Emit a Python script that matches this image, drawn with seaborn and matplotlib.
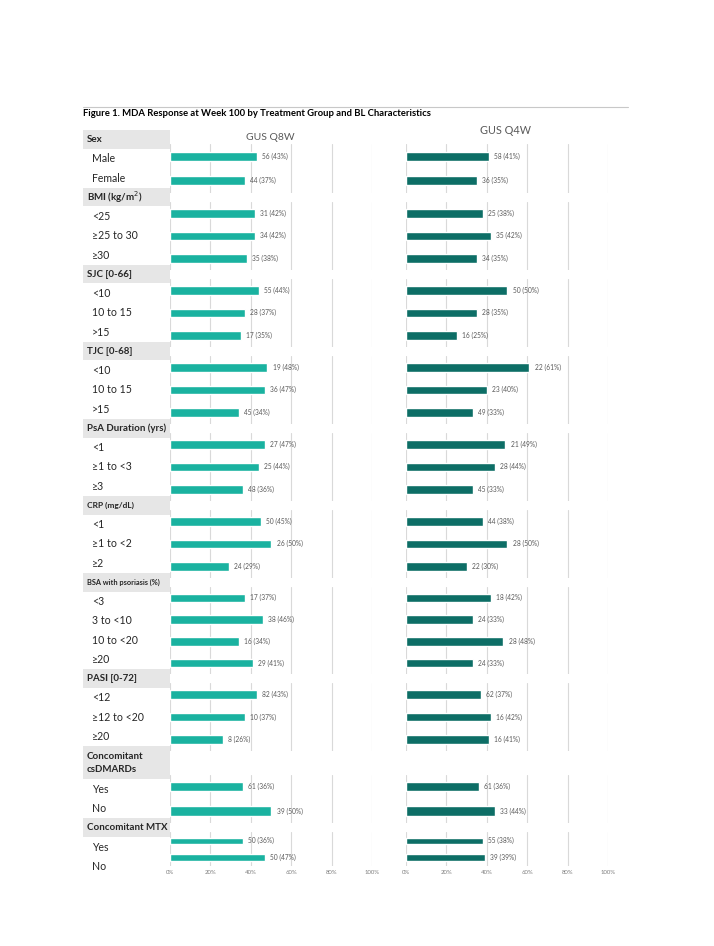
import matplotlib.pyplot as plt
import matplotlib.patches as mpatches
import numpy as np
import pandas as pd
import seaborn as sns

## datos de la figura
group_names = ['Sex', 'BMI (kg/m$^2$)', 'SJC [0-66]', 'TJC [0-68]', 'PsA Duration (yrs)',
               'CRP (mg/dL)', 'BSA with psoriasis (%)', 'PASI [0-72]',
               'Concomitant\ncsDMARDs', 'Concomitant MTX']
group_sizes = [2, 3, 3, 3, 3, 3, 4, 3, 2, 2]
levels = ['Male', 'Female',
          '<25', '≥25 to 30', '≥30',
          '<10', '10 to 15', '>15',
          '<10', '10 to 15', '>15',
          '<1', '≥1 to <3', '≥3',
          '<1', '≥1 to <2', '≥2',
          '<3', '3 to <10', '10 to <20', '≥20',
          '<12', '≥12 to <20', '≥20',
          'Yes', 'No',
          'Yes', 'No']
q8w_n = [56, 44, 31, 34, 35, 55, 28, 17, 19, 36, 45, 27, 25, 48,
         50, 26, 24, 17, 38, 16, 29, 82, 10, 8, 61, 39, 50, 50]
q8w_pct = [43, 37, 42, 42, 38, 44, 37, 35, 48, 47, 34, 47, 44, 36,
           45, 50, 29, 37, 46, 34, 41, 43, 37, 26, 36, 50, 36, 47]
q4w_n = [58, 36, 25, 35, 34, 50, 28, 16, 22, 23, 49, 21, 28, 45,
         44, 28, 22, 18, 24, 28, 24, 62, 16, 16, 61, 33, 55, 39]
q4w_pct = [41, 35, 38, 42, 35, 50, 35, 25, 61, 40, 33, 49, 44, 33,
           38, 50, 30, 42, 33, 48, 33, 37, 42, 41, 36, 44, 38, 39]
arm_titles = ['GUS Q8W', 'GUS Q4W']
x_ticks = [0, 20, 40, 60, 80, 100]

df = pd.DataFrame({'group': np.repeat(np.arange(len(group_names)), group_sizes),
                   'level': levels,
                   'q8w_n': q8w_n, 'q8w_pct': q8w_pct,
                   'q4w_n': q4w_n, 'q4w_pct': q4w_pct})

sns.set_theme(style='white')
plt.rcParams['font.family'] = ['Lato', 'DejaVu Sans']

W, H = 714, 946
fig = plt.figure(figsize=(W / 100, H / 100), dpi=100)

def rect(x0, y0, x1, y1):
    # pixeles (origen arriba izq) -> coordenadas de figura
    return [x0 / W, 1 - y1 / H, (x1 - x0) / W, (y1 - y0) / H]

def fy(y):
    return 1 - y / H

## titulo y linea superior
fig.add_artist(plt.Line2D([83 / W, 628 / W], [fy(107), fy(107)], color='#c8c8c8', lw=0.8))
fig.text(83 / W, fy(114), 'Figure 1. MDA Response at Week 100 by Treatment Group and BL Characteristics',
         fontsize=6.8, fontweight='bold', va='center', ha='left', color='black')

## titulos de brazos
fig.text(270 / W, fy(137), arm_titles[0], fontsize=7.5, color='#595959', ha='center', va='center')
fig.text(506 / W, fy(131), arm_titles[1], fontsize=7.8, color='#595959', ha='center', va='center')

colors = ['#1ab2a0', '#0d6e66']
arms = [('q8w_n', 'q8w_pct'), ('q4w_n', 'q4w_pct')]
x_ranges = [(170, 372), (406, 608)]

u = 19.25
y = 130.0
header_tops = []
for g, name in enumerate(group_names):
    hh = 1.75 * u if '\n' in name else u
    header_tops.append(y)
    y += hh + group_sizes[g] * u
end_y = y - 10

for g, name in enumerate(group_names):
    top = header_tops[g]
    hh = 1.75 * u if '\n' in name else u
    # caja gris del encabezado
    fig.add_artist(mpatches.Rectangle((83 / W, fy(top + hh - 0.5)), 87 / W, (hh - 0.5) / H,
                                      transform=fig.transFigure, color='#e6e6e6', lw=0))
    fsize = 5.3 if 'BSA' in name else (6.0 if 'CRP' in name else 7.0)
    fig.text(87 / W, fy(top + hh / 2), name, fontsize=fsize, fontweight='bold',
             va='center', ha='left', linespacing=1.5)
    sub = df[df['group'] == g].reset_index(drop=True)
    for i, lev in enumerate(sub['level']):
        fig.text(92 / W, fy(top + hh + (i + 0.5) * u), lev, fontsize=7.6, va='center', ha='left')

    ax_top = top + hh - 5
    ax_bot = header_tops[g + 1] + 5 if g + 1 < len(group_names) else end_y
    last = g == len(group_names) - 1
    for a, (ncol, pcol) in enumerate(arms):
        x0, x1 = x_ranges[a]
        ax = fig.add_axes(rect(x0, ax_top, x1, ax_bot))
        sub2 = sub.assign(row=[str(k) for k in range(len(sub))])
        sns.barplot(data=sub2, x=pcol, y='row', color=colors[a], width=0.38,
                    orient='h', ax=ax, saturation=1)
        ax.set_xlim(0, 100)
        ax.set_xticks(x_ticks)
        ax.grid(axis='x', color='#d9d9d9', lw=0.8)
        ax.set_axisbelow(True)
        for s in ax.spines.values():
            s.set_visible(False)
        ax.set_ylabel('')
        ax.set_xlabel('')
        ax.set_yticks([])
        ax.tick_params(axis='x', length=0, pad=3, labelsize=4.3, labelcolor='#7f7f7f')
        if last:
            ax.set_xticklabels([f'{t}%' for t in x_ticks])
        else:
            ax.set_xticklabels([])
        ax.bar_label(ax.containers[0],
                     labels=[f'{n} ({p}%)' for n, p in zip(sub[ncol], sub[pcol])],
                     padding=4, fontsize=4.8, color='#595959')
        ax.patch.set_alpha(0)

fig.savefig('out.png', dpi=100)
